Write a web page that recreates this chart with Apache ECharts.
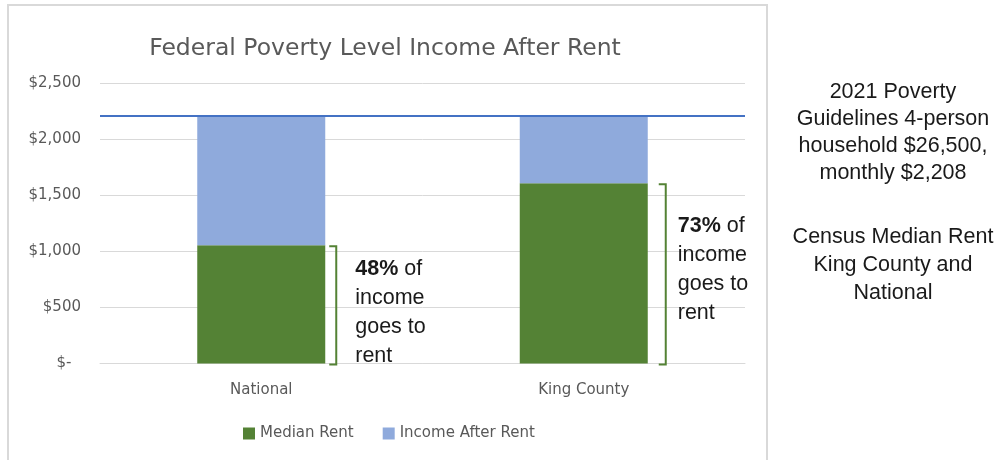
<!DOCTYPE html>
<html>
<head>
<meta charset="utf-8">
<script src="https://cdn.jsdelivr.net/npm/echarts@6/dist/echarts.min.js"></script>
<style>
html,body{margin:0;padding:0;background:#fff;}
#chart{width:1001px;height:460px;}
</style>
</head>
<body>
<div id="chart"></div>
<script>
// ---- data ----
const categories = ['National', 'King County'];
const medianRent = [1055, 1610];
const incomeAfterRent = [1153, 598];
const povertyMonthly = 2208;
const rentShare = ['48%', '73%'];
const yTickValues = [0, 500, 1000, 1500, 2000, 2500];
const yTickLabels = ['$-', '$500', '$1,000', '$1,500', '$2,000', '$2,500'];
const titleText = 'Federal Poverty Level Income After Rent';
const legendNames = ['Median Rent', 'Income After Rent'];
const sideNoteGuidelines = '2021 Poverty\nGuidelines 4-person\nhousehold $26,500,\nmonthly $2,208';
const sideNoteSource = 'Census Median Rent\nKing County and\nNational';

// ---- styles ----
const CHART_FONT = 'DejaVu Sans, Verdana, sans-serif';
const BOX_FONT = 'Liberation Sans, Arial, sans-serif';
const GREEN = '#548235';
const BLUE = '#8FAADC';
const LINE_BLUE = '#4472C4';
const GREY_TXT = '#595959';
const BAR_W = 128;
const BRACKET_OFF = [11, 18];
const TEXT_DY = [5.5, -6.5];

const chart = echarts.init(document.getElementById('chart'), null, {renderer: 'canvas'});

const bracketData = categories.map((c, i) => [i, medianRent[i]]);

function noteText(text, y, lh) {
  return {
    type: 'text',
    x: 893,
    y: y,
    silent: true,
    style: {
      text: text,
      x: 0,
      y: 0,
      align: 'center',
      textAlign: 'center',
      verticalAlign: 'top',
      fontFamily: BOX_FONT,
      fontSize: 21.5,
      lineHeight: lh,
      fill: '#1a1a1a'
    }
  };
}

const option = {
  animation: false,
  backgroundColor: '#fff',
  title: {
    text: titleText,
    left: 380,
    top: 32,
    textAlign: 'center',
    textStyle: {fontFamily: CHART_FONT, fontSize: 23.5, fontWeight: 'normal', color: GREY_TXT}
  },
  legend: {
    data: legendNames,
    left: 238,
    top: 421,
    itemWidth: 12,
    itemHeight: 12,
    itemGap: 29,
    icon: 'rect',
    textStyle: {fontFamily: CHART_FONT, fontSize: 15, color: GREY_TXT}
  },
  grid: {left: 100, right: 256, top: 83.5, bottom: 96.5, containLabel: false},
  xAxis: {
    type: 'category',
    data: categories,
    axisTick: {show: false},
    axisLine: {show: true, lineStyle: {color: '#d9d9d9', width: 1}},
    axisLabel: {fontFamily: CHART_FONT, fontSize: 15, color: GREY_TXT, margin: 19}
  },
  yAxis: {
    type: 'value',
    min: 0,
    max: 2500,
    interval: 500,
    axisLine: {show: false},
    axisTick: {show: false},
    splitLine: {lineStyle: {color: '#d9d9d9', width: 1}},
    axisLabel: {
      fontFamily: CHART_FONT, fontSize: 15, color: GREY_TXT, margin: 19,
      formatter: function (v) {
        const idx = yTickValues.indexOf(v);
        const s = idx >= 0 ? yTickLabels[idx] : String(v);
        return v === 0 ? s + '  ' : s;
      }
    }
  },
  graphic: [
    {
      type: 'rect',
      shape: {x: 8, y: 5, width: 759, height: 470},
      style: {fill: 'none', stroke: '#d9d9d9', lineWidth: 2},
      silent: true
    },
    noteText(sideNoteGuidelines, 78.5, 27),
    noteText(sideNoteSource, 223, 28)
  ],
  series: [
    {
      name: legendNames[0],
      type: 'bar',
      stack: 'total',
      barWidth: BAR_W,
      itemStyle: {color: GREEN},
      data: medianRent
    },
    {
      name: legendNames[1],
      type: 'bar',
      stack: 'total',
      barWidth: BAR_W,
      itemStyle: {color: BLUE},
      data: incomeAfterRent,
      markLine: {
        silent: true,
        symbol: 'none',
        label: {show: false},
        lineStyle: {color: LINE_BLUE, width: 2, type: 'solid'},
        data: [{yAxis: povertyMonthly}]
      }
    },
    {
      type: 'custom',
      silent: true,
      data: bracketData,
      renderItem: function (params, api) {
        const i = api.value(0);
        const topPt = api.coord([i, api.value(1)]);
        const botPt = api.coord([i, 0]);
        const x = topPt[0] + BAR_W / 2 + BRACKET_OFF[i];
        const y1 = topPt[1] + 1;
        const y2 = botPt[1] + 1;
        const midY = (y1 + y2) / 2 + 2 + TEXT_DY[i];
        return {
          type: 'group',
          children: [
            {
              type: 'polyline',
              shape: {points: [[x - 7, y1], [x, y1], [x, y2], [x - 7, y2]]},
              style: {stroke: GREEN, lineWidth: 2, fill: null}
            },
            {
              type: 'text',
              style: {
                text: '{b|' + rentShare[i] + '} of\nincome\ngoes to\nrent',
                x: topPt[0] + BAR_W / 2 + 30,
                y: midY,
                verticalAlign: 'middle',
                align: 'left',
                fontFamily: BOX_FONT,
                fontSize: 21.5,
                lineHeight: 29,
                fill: '#1a1a1a',
                rich: {
                  b: {fontFamily: BOX_FONT, fontSize: 21.5, lineHeight: 29, fontWeight: 'bold', fill: '#1a1a1a'}
                }
              }
            }
          ]
        };
      }
    }
  ]
};

chart.setOption(option);
</script>
</body>
</html>
